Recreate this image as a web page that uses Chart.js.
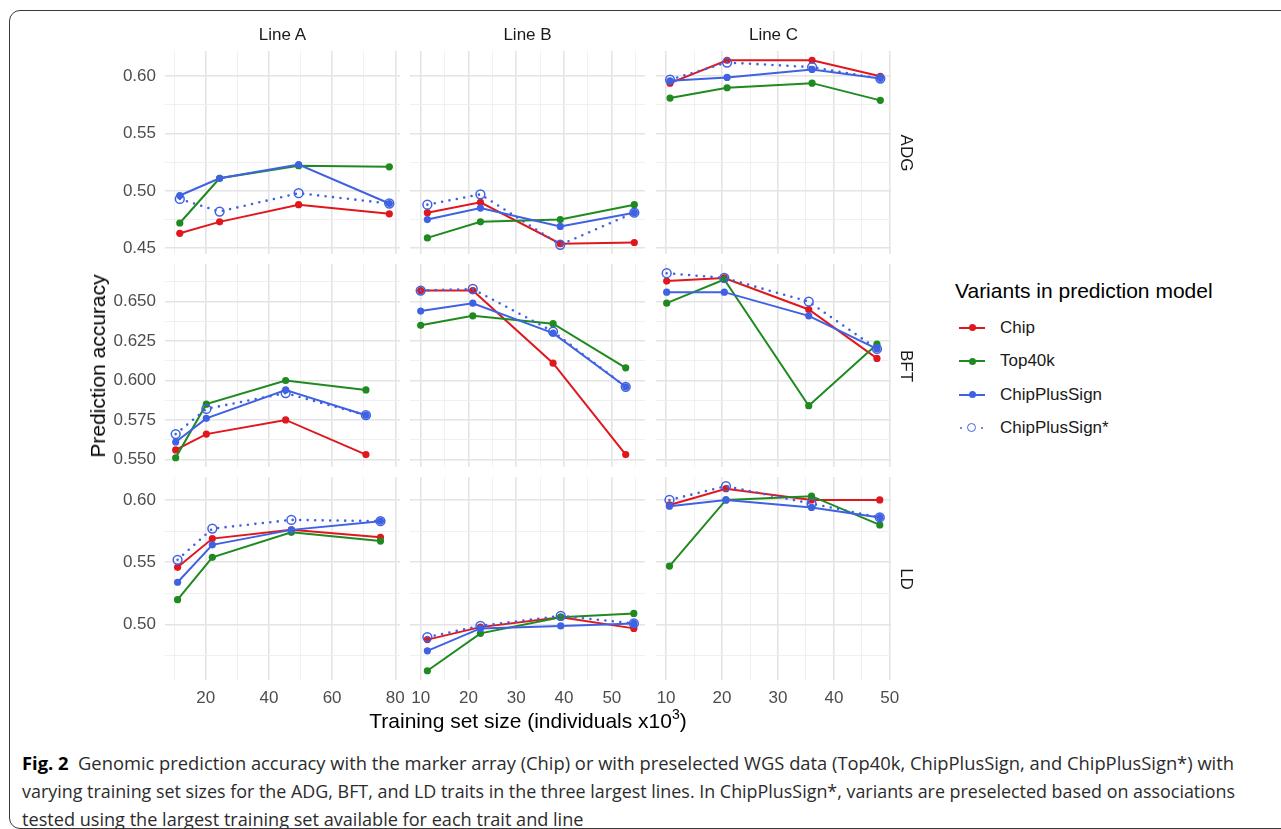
<!DOCTYPE html>
<html>
<head>
<meta charset="utf-8">
<title>Genomic prediction accuracy</title>
<script src="https://cdn.jsdelivr.net/npm/chart.js@4.4.0/dist/chart.umd.min.js"></script>
<style>
  body { margin: 0; background: #fff; }
  #fig { position: relative; width: 1281px; height: 829px; overflow: hidden; font-family: "Liberation Sans", Arial, sans-serif; }
  #fig canvas { position: absolute; }
  .frame { position: absolute; left: 9px; top: 10px; width: 1330px; height: 817px; border: 1.3px solid #3a3a3a; border-radius: 11px; }
  .strip { position: absolute; font-size: 17px; color: #1a1a1a; transform: translate(-50%, -50%); white-space: nowrap; }
  .strip.row { transform: translate(-50%, -50%) rotate(90deg); }
  .axtitle { position: absolute; font-size: 21px; color: #000; white-space: nowrap; transform: translate(-50%, -50%); }
  .axtitle sup { font-size: 14px; vertical-align: 9px; line-height: 0; }
  #legend { position: absolute; left: 955px; top: 279px; }
  #legend .ttl { font-size: 21px; color: #000; margin-bottom: 8px; }
  #legend .item { position: relative; height: 33.5px; font-size: 17px; color: #1a1a1a; }
  #legend .item span.lbl { position: absolute; left: 45px; top: 50%; transform: translateY(-50%); }
  #legend .key { position: absolute; left: 4px; top: 50%; width: 26px; height: 0; }
  #legend .key .ln { position: absolute; left: 0; top: -1px; width: 26px; height: 2px; }
  #legend .key .dot { position: absolute; left: 9.5px; top: -3.5px; width: 7px; height: 7px; border-radius: 50%; }
  #legend .key .ring { position: absolute; left: 8px; top: -5px; width: 7px; height: 7px; border-radius: 50%; border: 1.5px solid; background: transparent; }
  #legend .key .pip { position: absolute; top: -1.2px; width: 2.4px; height: 2.4px; border-radius: 50%; }
  .cap { position: absolute; left: 22px; white-space: nowrap; font-family: "Open Sans", "Noto Sans", sans-serif; font-size: 18.5px; color: #2b2b2b; transform-origin: left center; transform: translateY(-50%); }
  .cap b { color: #000; }
</style>
</head>
<body>
<div id="fig">
  <div class="frame"></div>
  <div id="legend"></div>
</div>
<script>
// facets
const traits = ['ADG', 'BFT', 'LD'];
const lines = ['Line A', 'Line B', 'Line C'];
const variants = ['Chip', 'Top40k', 'ChipPlusSign', 'ChipPlusSign*'];

// training set sizes (individuals x10^3), one row per line A, B, C
const sizeADG = [[11.8, 24.4, 49.4, 78.1], [11.4, 22.5, 39.2, 54.7], [10.7, 20.9, 36.1, 48.3]];
const sizeBFT = [[10.5, 20.2, 45.3, 70.7], [10.0, 20.9, 37.7, 52.9], [10.1, 20.4, 35.5, 47.7]];
const sizeLD  = [[11.1, 22.1, 47.1, 75.3], [11.4, 22.5, 39.3, 54.6], [10.6, 20.7, 36.0, 48.2]];

// prediction accuracy, ADG
const adgChip     = [[0.463, 0.473, 0.488, 0.480], [0.481, 0.490, 0.454, 0.455], [0.594, 0.614, 0.614, 0.600]];
const adgTop40k   = [[0.472, 0.511, 0.522, 0.521], [0.459, 0.473, 0.475, 0.488], [0.581, 0.590, 0.594, 0.579]];
const adgPlusSign = [[0.496, 0.511, 0.523, 0.489], [0.475, 0.485, 0.469, 0.481], [0.596, 0.599, 0.606, 0.598]];
const adgPlusStar = [[0.493, 0.482, 0.498, 0.489], [0.488, 0.497, 0.453, 0.481], [0.597, 0.612, 0.608, 0.598]];

// prediction accuracy, BFT
const bftChip     = [[0.556, 0.566, 0.575, 0.553], [0.657, 0.657, 0.611, 0.553], [0.663, 0.665, 0.645, 0.614]];
const bftTop40k   = [[0.551, 0.585, 0.600, 0.594], [0.635, 0.641, 0.636, 0.608], [0.649, 0.664, 0.584, 0.623]];
const bftPlusSign = [[0.561, 0.576, 0.594, 0.578], [0.644, 0.649, 0.630, 0.596], [0.656, 0.656, 0.641, 0.620]];
const bftPlusStar = [[0.566, 0.582, 0.592, 0.578], [0.657, 0.658, 0.631, 0.596], [0.668, 0.665, 0.650, 0.620]];

// prediction accuracy, LD
const ldChip     = [[0.546, 0.569, 0.576, 0.570], [0.488, 0.498, 0.506, 0.497], [0.596, 0.609, 0.600, 0.600]];
const ldTop40k   = [[0.520, 0.554, 0.574, 0.567], [0.463, 0.493, 0.506, 0.509], [0.547, 0.600, 0.603, 0.580]];
const ldPlusSign = [[0.534, 0.564, 0.576, 0.583], [0.479, 0.497, 0.499, 0.501], [0.595, 0.600, 0.594, 0.586]];
const ldPlusStar = [[0.552, 0.577, 0.584, 0.583], [0.490, 0.499, 0.507, 0.501], [0.600, 0.611, 0.597, 0.586]];

// axis breaks: labelled majors and unlabelled minors
const xMajor = [[20, 40, 60, 80], [10, 20, 30, 40, 50], [10, 20, 30, 40, 50]];
const xMinor = [[10, 30, 50, 70], [15, 25, 35, 45, 55], [15, 25, 35, 45]];
const yMajor = [[0.45, 0.50, 0.55, 0.60], [0.550, 0.575, 0.600, 0.625, 0.650], [0.50, 0.55, 0.60]];
const yMinor = [[0.475, 0.525, 0.575], [0.5625, 0.5875, 0.6125, 0.6375, 0.6625], [0.475, 0.525, 0.575]];
const yDigits = [2, 3, 2];

const sizes = [sizeADG, sizeBFT, sizeLD];
const values = [
  [adgChip, adgTop40k, adgPlusSign, adgPlusStar],
  [bftChip, bftTop40k, bftPlusSign, bftPlusStar],
  [ldChip, ldTop40k, ldPlusSign, ldPlusStar]
];

const colors = ['#e0171c', '#1f8a1f', '#3f62e2', '#3f62e2'];

// panel geometry
const panelLeft = [165, 410, 656];
const panelTop = [51, 264, 477];
const panelW = 235, panelH = 203;
const pad = 14, yAxisW = 70, xAxisH = 34;

const fig = document.getElementById('fig');

// ggplot-style 5% expansion of the data range
function expand(arr) {
  var lo = Math.min.apply(null, arr), hi = Math.max.apply(null, arr);
  var d = (hi - lo) * 0.05;
  return [lo - d, hi + d];
}
var xLim = [0, 1, 2].map(function (c) {
  var all = [];
  sizes.forEach(function (s) { all = all.concat(s[c]); });
  return expand(all);
});
var yLim = [0, 1, 2].map(function (r) {
  var all = [];
  values[r].forEach(function (v) { v.forEach(function (line) { all = all.concat(line); }); });
  return expand(all);
});

function inList(list, v) {
  return list.some(function (m) { return Math.abs(m - v) < 1e-9; });
}

function gridStyle(major) {
  return {
    drawTicks: false,
    color: function (ctx) { return inList(major, ctx.tick.value) ? '#e4e4e4' : '#eeeeee'; },
    lineWidth: function (ctx) { return inList(major, ctx.tick.value) ? 1.6 : 0.9; }
  };
}

function makePanel(r, c) {
  var isLeft = c === 0, isBottom = r === 2;
  var w = panelW + 2 * pad + (isLeft ? yAxisW : 0);
  var h = panelH + 2 * pad + (isBottom ? xAxisH : 0);
  var canvas = document.createElement('canvas');
  canvas.width = w;
  canvas.height = h;
  canvas.style.width = w + 'px';
  canvas.style.height = h + 'px';
  canvas.style.left = (panelLeft[c] - pad - (isLeft ? yAxisW : 0)) + 'px';
  canvas.style.top = (panelTop[r] - pad) + 'px';
  fig.appendChild(canvas);

  var datasets = variants.map(function (name, k) {
    var xs = sizes[r][c], ys = values[r][k][c];
    var ds = {
      label: name,
      data: xs.map(function (x, i) { return { x: x, y: ys[i] }; }),
      borderColor: colors[k],
      backgroundColor: colors[k],
      borderWidth: 2,
      pointRadius: 3.6,
      pointBorderWidth: 0,
      pointBackgroundColor: colors[k],
      tension: 0,
      order: 3 - k
    };
    if (k === 3) {
      ds.borderDash = [0, 7.5];
      ds.borderCapStyle = 'round';
      ds.borderWidth = 2.6;
      ds.pointRadius = 4.4;
      ds.pointBorderWidth = 1.5;
      ds.pointBorderColor = colors[k];
      ds.pointBackgroundColor = 'rgba(0,0,0,0)';
    }
    return ds;
  });

  new Chart(canvas, {
    type: 'line',
    data: { datasets: datasets },
    options: {
      responsive: false,
      animation: false,
      devicePixelRatio: 1,
      layout: { padding: pad },
      plugins: { legend: { display: false }, tooltip: { enabled: false } },
      scales: {
        x: {
          type: 'linear',
          min: xLim[c][0],
          max: xLim[c][1],
          afterBuildTicks: function (s) {
            s.ticks = xMajor[c].concat(xMinor[c]).sort(function (a, b) { return a - b; })
              .map(function (v) { return { value: v }; });
          },
          afterFit: function (s) {
            s.height = isBottom ? xAxisH : 0;
            s.paddingLeft = 0; s.paddingRight = 0;
          },
          border: { display: false },
          grid: gridStyle(xMajor[c]),
          ticks: {
            display: isBottom,
            autoSkip: false,
            maxRotation: 0,
            padding: 8,
            color: '#4d4d4d',
            font: { family: 'Liberation Sans', size: 17 },
            callback: function (v) { return inList(xMajor[c], v) ? String(v) : ''; }
          }
        },
        y: {
          type: 'linear',
          min: yLim[r][0],
          max: yLim[r][1],
          afterBuildTicks: function (s) {
            s.ticks = yMajor[r].concat(yMinor[r]).sort(function (a, b) { return a - b; })
              .map(function (v) { return { value: v }; });
          },
          afterFit: function (s) {
            s.width = isLeft ? yAxisW : 0;
            s.paddingTop = 0; s.paddingBottom = 0;
          },
          border: { display: false },
          grid: gridStyle(yMajor[r]),
          ticks: {
            display: isLeft,
            autoSkip: false,
            padding: 9,
            color: '#4d4d4d',
            font: { family: 'Liberation Sans', size: 17 },
            callback: function (v) { return inList(yMajor[r], v) ? v.toFixed(yDigits[r]) : ''; }
          }
        }
      }
    }
  });
}

for (var r = 0; r < 3; r++) {
  for (var c = 0; c < 3; c++) makePanel(r, c);
}

function addText(cls, html, x, y) {
  var d = document.createElement('div');
  d.className = cls;
  d.innerHTML = html;
  d.style.left = x + 'px';
  d.style.top = y + 'px';
  fig.appendChild(d);
  return d;
}

// facet strips
lines.forEach(function (name, c) { addText('strip', name, panelLeft[c] + panelW / 2, 35); });
traits.forEach(function (name, r) { addText('strip row', name, 906, panelTop[r] + panelH / 2); });

// axis titles
addText('axtitle', 'Prediction accuracy', 98, 366).style.transform = 'translate(-50%, -50%) rotate(-90deg)';
addText('axtitle', 'Training set size (individuals x10<sup>3</sup>)', 528, 721);

// legend
var legend = document.getElementById('legend');
var html = '<div class="ttl">Variants in prediction model</div>';
variants.forEach(function (name, k) {
  var key;
  if (k < 3) {
    key = '<div class="ln" style="background:' + colors[k] + '"></div>' +
          '<div class="dot" style="background:' + colors[k] + '"></div>';
  } else {
    key = '<div class="pip" style="left:1px;background:' + colors[k] + '"></div>' +
          '<div class="ring" style="border-color:' + colors[k] + '"></div>' +
          '<div class="pip" style="left:22px;background:' + colors[k] + '"></div>';
  }
  html += '<div class="item"><div class="key">' + key + '</div><span class="lbl">' + name + '</span></div>';
});
legend.innerHTML = html;

// caption: the two full lines are squeezed to the text width, the last one
// takes their average squeeze
var capLines = [
  '<b>Fig. 2</b>&nbsp; Genomic prediction accuracy with the marker array (Chip) or with preselected WGS data (Top40k, ChipPlusSign, and ChipPlusSign*) with',
  'varying training set sizes for the ADG, BFT, and LD traits in the three largest lines. In ChipPlusSign*, variants are preselected based on associations',
  'tested using the largest training set available for each trait and line'
];
var capWidths = [1212, 1213];
var capEls = capLines.map(function (t, i) { return addText('cap', t, 22, 762 + i * 28); });
var squeeze = capWidths.map(function (w, i) { return w / capEls[i].getBoundingClientRect().width; });
squeeze.push((squeeze[0] + squeeze[1]) / 2);
capEls.forEach(function (d, i) {
  d.style.transform = 'translateY(-50%) scaleX(' + squeeze[i] + ')';
});
</script>
</body>
</html>
